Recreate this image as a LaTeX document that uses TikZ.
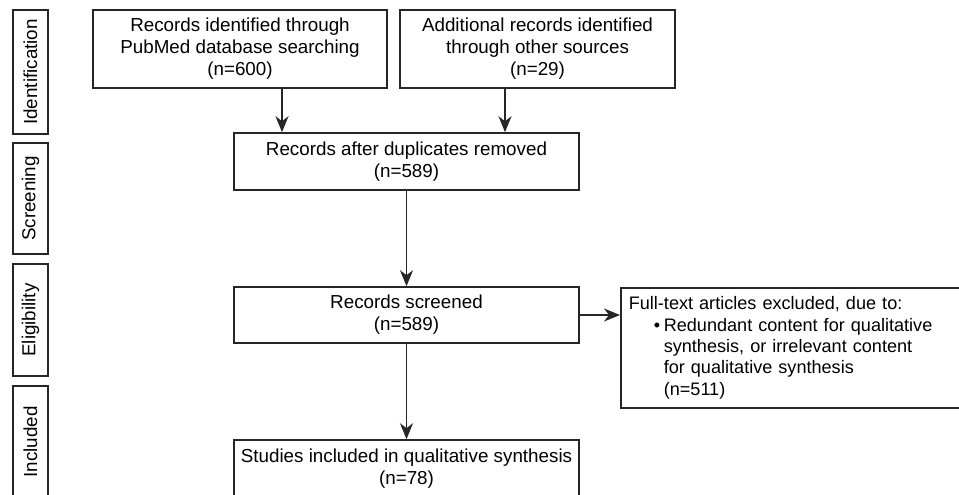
\documentclass[tikz,border=0pt]{standalone}
\usepackage{fontspec}
\setsansfont{Liberation Sans}
\usetikzlibrary{arrows.meta,positioning,calc}
\tikzset{every picture/.prefix style={execute at begin picture={\sffamily}}}

\begin{document}
\begin{tikzpicture}[x=0.02cm,y=-0.02cm,
  box/.style={draw=black!85,line width=0.9pt,align=center,inner sep=0pt,font=\fontsize{10.7}{12.5}\selectfont},
  stage/.style={box,rotate=90,minimum height=0.7cm},
  arr/.style={-{Stealth[length=3.2mm,width=2.6mm,inset=1mm]},line width=0.9pt,black!85}]
\useasboundingbox (0,0) rectangle (959,494); \clip (0,0) rectangle (959,494);
% phase labels down the left side
\node[stage,minimum width=2.48cm] (sid) at (30.5,72) {Identification};
\node[stage,minimum width=2.22cm] (ssc) at (30.5,198.5) {Screening};
\node[stage,minimum width=2.24cm] (sel) at (30.5,320) {Eligibility};
\node[stage,minimum width=2.24cm] (sin) at (30.5,442) {Included};
% flow boxes
\node[box,minimum width=5.88cm,minimum height=1.56cm] (pubmed) at (240,49) {Records identified through\\PubMed database searching\\(n=600)};
\node[box,minimum width=5.5cm,minimum height=1.56cm] (other) at (537.5,49) {Additional records identified\\through other sources\\(n=29)};
\node[box,minimum width=6.9cm,minimum height=1.14cm] (dedup) at (406.5,161.5) {Records after duplicates removed\\(n=589)};
\node[box,minimum width=6.9cm,minimum height=1.12cm] (screen) at (406.5,315) {Records screened\\(n=589)};
\node[box,anchor=north west,align=left,text width=6.88cm,inner xsep=0.16cm,minimum height=2.4cm,font=\fontsize{10.3}{12.2}\selectfont] (excl) at (620,287)
  {Full-text articles excluded, due to:\\\hspace*{0.5cm}\makebox[0.2cm][l]{\textbullet}Redundant content for qualitative\\\hspace*{0.7cm}synthesis, or irrelevant content\\\hspace*{0.7cm}for qualitative synthesis\\\hspace*{0.7cm}(n=511)};
\node[box,minimum width=6.9cm,minimum height=1.14cm] (incl) at (406.5,468.5) {Studies included in qualitative synthesis\\(n=78)};
% connectors
\coordinate (a1) at ($(pubmed.south)+(42,0)$); \coordinate (a2) at ($(other.south)+(-32.5,0)$);
\draw[arr] (a1) -- (a1 |- dedup.north);
\draw[arr] (a2) -- (a2 |- dedup.north);
\draw[arr] (dedup) -- (screen);
\draw[arr] (screen.east) -- (screen.east -| excl.west);
\draw[arr] (screen) -- (incl);
\end{tikzpicture}
\end{document}
